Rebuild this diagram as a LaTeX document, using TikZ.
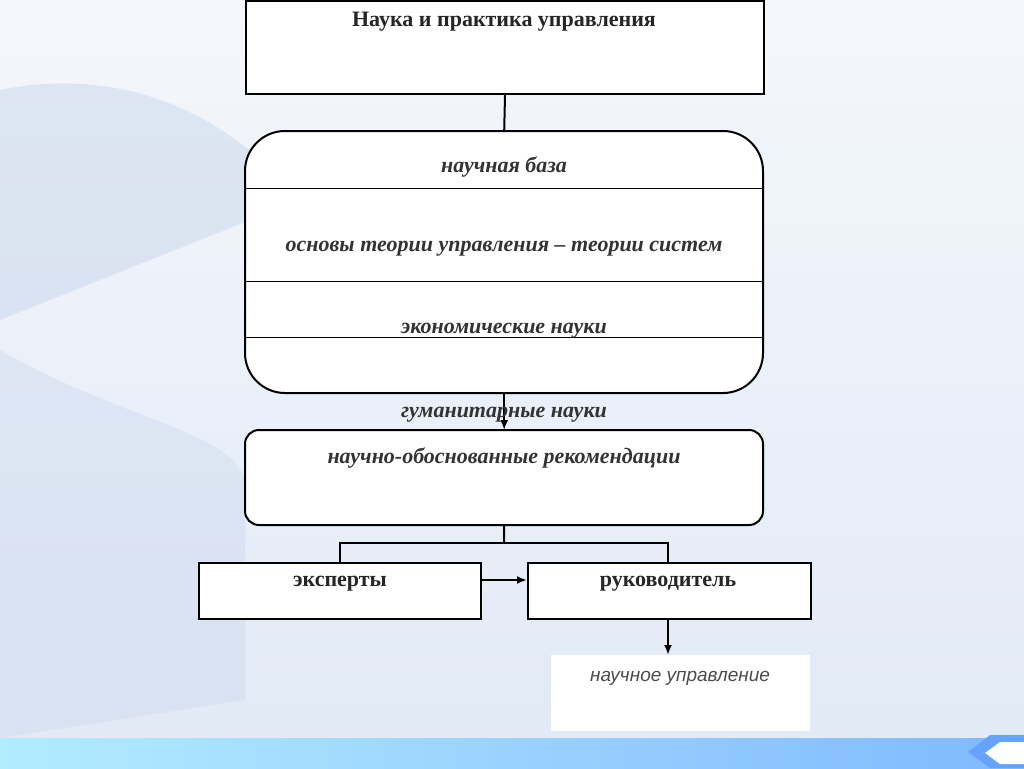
\documentclass[tikz,border=0pt]{standalone}
\usepackage{fontspec}
\setmainfont{Liberation Serif}
\setsansfont{Liberation Sans}
\usetikzlibrary{arrows.meta}
\definecolor{bgA}{HTML}{F4F7FC}
\definecolor{bgB}{HTML}{E2EAF6}
\definecolor{tree}{HTML}{C9D6EA}
\begin{document}
\begin{tikzpicture}[x=1pt,y=-1pt,
  box/.style={draw=black,line width=2pt,fill=white},
  ttl/.style={font=\bfseries\fontsize{22}{24}\selectfont,text=black!85},
  itl/.style={font=\bfseries\itshape\fontsize{22}{24}\selectfont,text=black!80},
  ln/.style={line width=2pt},
  arr/.style={line width=2pt,-{Latex[length=10pt,width=8pt]}}]
\useasboundingbox (0,0) rectangle (1024,768);
\shade[top color=bgA,bottom color=bgB] (0,0) rectangle (1024,738);
\fill[tree,opacity=0.5] (0,90) .. controls (150,60) and (250,140) .. (300,200) -- (0,320) -- cycle;
\fill[tree,opacity=0.4] (0,350) .. controls (120,420) and (230,430) .. (245,480) -- (245,700) -- (0,738) -- cycle;
\shade[left color=blue!25!cyan!30,right color=blue!55!cyan!50] (0,738) rectangle (1024,768);
\fill[blue!60!cyan!60] (1024,735) -- (990,735) -- (968,752) -- (990,768) -- (1024,768) -- cycle;
\fill[white] (1024,742) -- (1000,742) -- (985,753) -- (1000,764) -- (1024,764) -- cycle;
% top
\node[box,minimum width=518pt,minimum height=93pt,anchor=north west] (top) at (245,0) {};
\node[ttl] (topt) at (504,22) {Наука и практика управления};
% rounded
\draw[box,rounded corners=40pt] (245,131) rectangle (763,393);
\node[minimum width=518pt,minimum height=262pt,anchor=north west,inner sep=0] (base) at (245,131) {};
\draw[line width=1pt] (245,188) -- (763,188) (245,281) -- (763,281) (245,337) -- (763,337);
\node[itl] (t1) at (504,167) {научная база};
\node[itl] (t2) at (504,249) {основы теории управления – теории систем};
\node[itl] (t3) at (504,331) {экономические науки};
\draw[ln] (top.south) -- (base.north);
% recommendations
\draw[box,rounded corners=14pt] (245,430) rectangle (763,525);
\node[minimum width=518pt,minimum height=95pt,anchor=north west,inner sep=0] (rec) at (245,430) {};
\draw[arr] (base.south) -- (rec.north);
\node[itl] (t4) at (504,415) {гуманитарные науки};
\node[itl] (t5) at (504,458) {научно-обоснованные рекомендации};
% bottom boxes
\node[box,minimum width=282pt,minimum height=56pt,anchor=north west] (exp) at (198,562) {};
\node[box,minimum width=283pt,minimum height=56pt,anchor=north west] (ruk) at (527,562) {};
\node[ttl] at (340,584) {эксперты};
\node[ttl] at (668,584) {руководитель};
\coordinate (j) at (504,543);
\draw[ln] (rec.south) -- (j);
\draw[ln] (340,562) |- (668,543) -- (668,562);
\draw[arr] (exp.east |- 0,580) -- (ruk.west |- 0,580);
\node[fill=white,minimum width=259pt,minimum height=76pt,anchor=north west] (nu) at (551,655) {};
\node[font=\sffamily\itshape\fontsize{19}{21}\selectfont,text=black!70] at (680,678) {научное управление};
\draw[arr] (ruk.south -| 668,0) -- (nu.north -| 668,0);
\end{tikzpicture}
\end{document}
